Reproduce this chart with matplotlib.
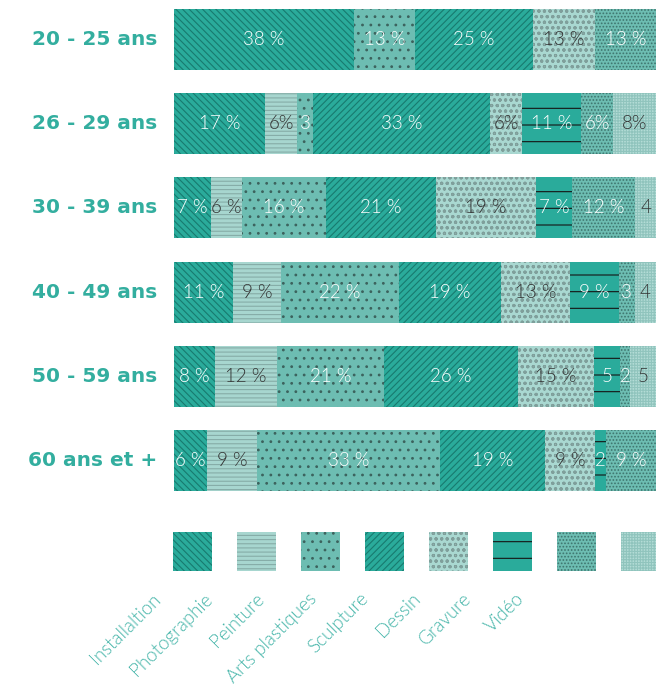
import numpy as np
import matplotlib
matplotlib.use("Agg")
from matplotlib import pyplot as plt

# age groups (top to bottom)
age_groups = ["20 - 25 ans", "26 - 29 ans", "30 - 39 ans",
              "40 - 49 ans", "50 - 59 ans", "60 ans et +"]

disciplines = ["Installaltion", "Photographie", "Peinture", "Arts plastiques",
               "Sculpture", "Dessin", "Gravure", "Vidéo"]

# percentages per age group, in discipline order
installation = [38, 17, 7, 11, 8, 6]
photographie = [0, 6, 6, 9, 12, 9]
peinture = [13, 3, 16, 22, 21, 33]
arts_plastiques = [25, 33, 21, 19, 26, 19]
sculpture = [13, 6, 19, 13, 15, 9]
dessin = [0, 11, 7, 9, 5, 2]
gravure = [13, 6, 12, 3, 2, 9]
video = [0, 8, 4, 4, 5, 0]

# labels as printed on the chart
labels = [
    ["38 %", "", "13 %", "25 %", "13 %", "", "13 %", ""],
    ["17 %", "6%", "3", "33 %", "6%", "11 %", "6%", "8%"],
    ["7 %", "6 %", "16 %", "21 %", "19 %", "7 %", "12 %", "4"],
    ["11 %", "9 %", "22 %", "19 %", "13 %", "9 %", "3", "4"],
    ["8 %", "12 %", "21 %", "26 %", "15 %", "5", "2", "5"],
    ["6 %", "9 %", "33 %", "19 %", "9 %", "2", "9 %", ""],
]

face_colors = ["#2aab9b", "#a7d6cf", "#6dbdb2", "#2aab9b",
               "#a9d8d1", "#2aab9b", "#6dbdb2", "#b3dcd6"]
hatch_colors = ["#187a6f", "#86aca7", "#3c625d", "#187a6f",
                "#7f9f9b", "#151515", "#3e756e", "#90c4bd"]
hatches = ["\\" * 5, "-" * 4, "..", "/" * 5, "ooo", "-", ".....", "+" * 6]
text_colors = ["white", "#333333", "white", "white",
               "#333333", "white", "white", "#333333"]

TEAL = "#33ae9f"
LEGEND_TEAL = "#45b5a9"

plt.rcParams["hatch.linewidth"] = 0.8

data = np.array([installation, photographie, peinture, arts_plastiques,
                 sculpture, dessin, gravure, video], dtype=float)
shares = data / data.sum(axis=0) * 100

fig = plt.figure(figsize=(6.56, 6.94), dpi=100)
W, H = 656, 694

# main stacked bars
ax = fig.add_axes([174 / W, 1 - 503 / H, 1 - 174 / W, 506 / H])
rows = np.arange(len(age_groups))
left = np.zeros(len(age_groups))
for j in range(len(disciplines)):
    ax.barh(rows, shares[j], left=left, height=0.72, color=face_colors[j],
            edgecolor=hatch_colors[j], hatch=hatches[j], linewidth=0)
    for i in rows:
        if data[j, i] > 0:
            ax.text(left[i] + shares[j, i] / 2, i, labels[i][j],
                    ha="center", va="center", fontsize=13.5,
                    family="Lato", fontweight=300, color=text_colors[j],
                    zorder=5)
    left += shares[j]
ax.set_xlim(0, 100)
ax.set_ylim(5.5, -0.5)
ax.axis("off")

for i, name in enumerate(age_groups):
    ax.text(-0.035, i, name, transform=ax.get_yaxis_transform(),
            ha="right", va="center", fontsize=14.5, fontweight="bold",
            color=TEAL)

# legend squares
lax = fig.add_axes([173 / W, 1 - 571 / H, 1 - 173 / W, 39 / H])
slot = 64
for j in range(len(disciplines)):
    lax.bar(j * slot, 39, width=39, align="edge", color=face_colors[j],
            edgecolor=hatch_colors[j], hatch=hatches[j], linewidth=0)
lax.set_xlim(0, W - 173)
lax.set_ylim(0, 39)
lax.axis("off")

for j, name in enumerate(disciplines):
    x = (152 + 51.8 * j) / W
    fig.text(x, 1 - 590 / H, name, rotation=45, rotation_mode="anchor",
             ha="right", va="top", fontsize=13.5, family="Lato",
             fontweight=300, color=LEGEND_TEAL)

fig.savefig("out.png", dpi=100)
